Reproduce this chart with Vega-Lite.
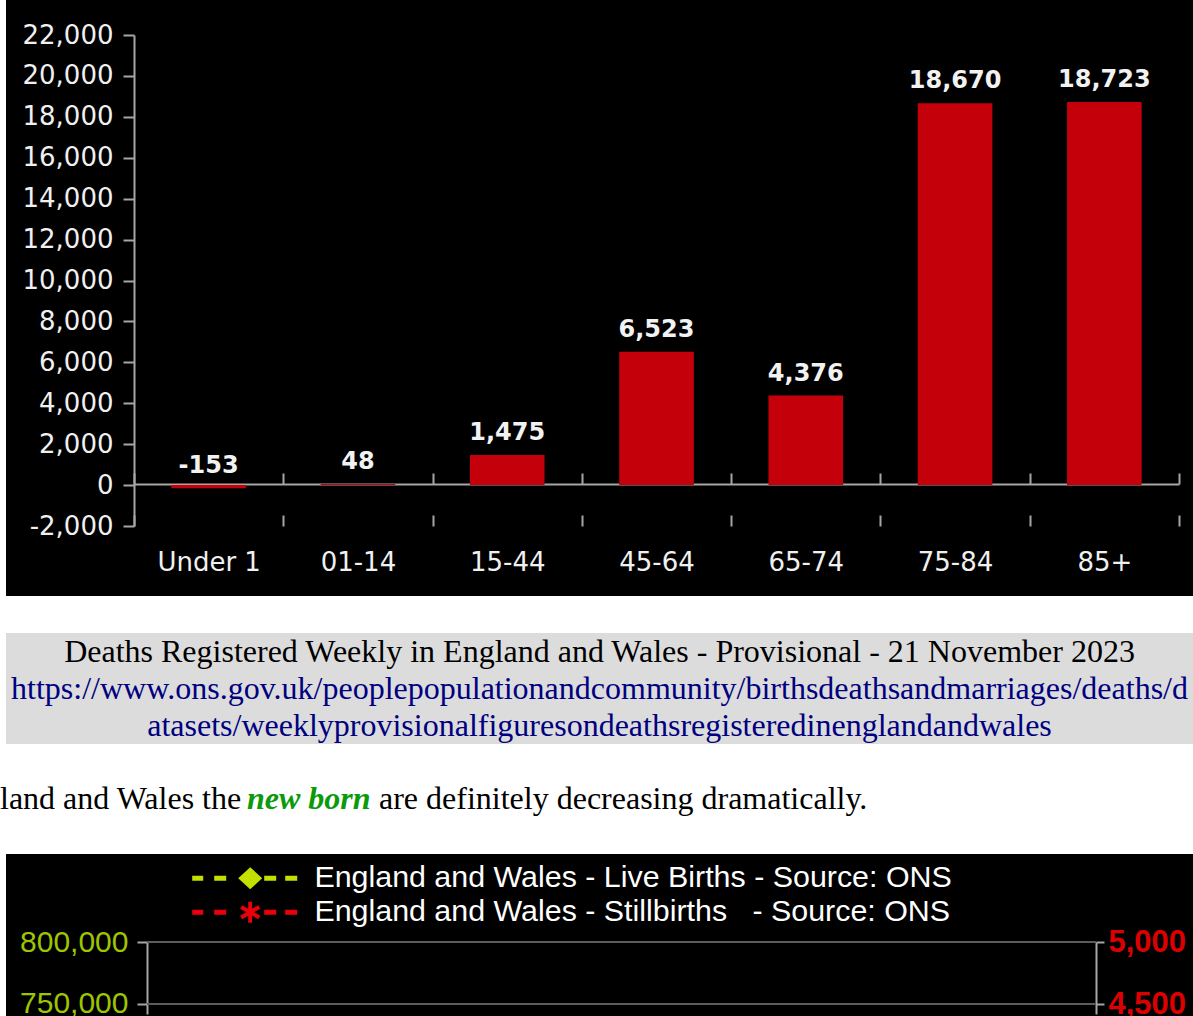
{
  "$schema": "https://vega.github.io/schema/vega-lite/v6.json",
  "background": "#ffffff",
  "padding": {"left": 0, "right": 0, "top": 0, "bottom": 0},
  "spacing": 0,
  "bounds": "flush",
  "config": {
    "view": {"stroke": null},
    "locale": {"number": {"decimal": ".", "thousands": ",", "grouping": [3], "currency": ["", ""], "minus": "-"}}
  },
  "resolve": {"scale": {"color": "independent", "shape": "independent"}, "legend": {"color": "independent", "shape": "independent"}},
  "vconcat": [
    {
      "width": 1187,
      "height": 596,
      "view": {"fill": "#000000", "stroke": null},
      "data": {"values": [
        {"age": "Under 1", "deaths": -153},
        {"age": "01-14", "deaths": 48},
        {"age": "15-44", "deaths": 1475},
        {"age": "45-64", "deaths": 6523},
        {"age": "65-74", "deaths": 4376},
        {"age": "75-84", "deaths": 18670},
        {"age": "85+", "deaths": 18723}
      ]},
      "resolve": {"axis": {"x": "independent"}},
      "layer": [
        {
          "mark": {"type": "bar", "color": "#c4000b", "width": {"band": 0.5}},
          "encoding": {
            "x": {"field": "age", "type": "nominal", "sort": null,
              "scale": {"range": [128, 1173], "paddingInner": 0, "paddingOuter": 0},
              "axis": {"orient": "bottom", "offset": -81, "tickBand": "extent", "domain": false, "grid": false,
                "tickSize": 11, "tickColor": "#a6a6a6", "tickWidth": 2,
                "labelColor": "#f0f0f0", "labelFont": "DejaVu Sans", "labelFontSize": 26, "labelPadding": 23, "labelAngle": 0, "title": null}},
            "y": {"field": "deaths", "type": "quantitative",
              "scale": {"domain": [-2000, 22000], "range": [526, 35], "nice": false, "zero": true},
              "axis": {"orient": "left", "offset": -128, "values": [-2000, 0, 2000, 4000, 6000, 8000, 10000, 12000, 14000, 16000, 18000, 20000, 22000],
                "labelExpr": "format(datum.value, ',')", "title": null, "grid": false,
                "domainColor": "#a6a6a6", "domainWidth": 2, "tickColor": "#a6a6a6", "tickWidth": 2, "tickSize": 11,
                "labelColor": "#f0f0f0", "labelFont": "DejaVu Sans", "labelFontSize": 26, "labelPadding": 10,
                "labelOverlap": false, "labelFlush": false, "labelBound": false}},
            "y2": {"datum": 0}
          }
        },
        {
          "mark": {"type": "text", "dy": -15, "baseline": "alphabetic", "align": "center", "font": "DejaVu Sans", "fontWeight": "bold", "fontSize": 24, "color": "#f2f2f2"},
          "encoding": {
            "x": {"field": "age", "type": "nominal", "sort": null,
              "scale": {"range": [128, 1173], "paddingInner": 0, "paddingOuter": 0},
              "axis": {"orient": "top", "offset": -484, "tickBand": "extent", "labels": false, "grid": false,
                "domainColor": "#a6a6a6", "domainWidth": 2, "tickColor": "#a6a6a6", "tickWidth": 2, "tickSize": 11, "title": null}},
            "y": {"field": "deaths", "type": "quantitative",
              "scale": {"domain": [-2000, 22000], "range": [526, 35], "nice": false, "zero": true},
              "axis": {"orient": "left", "offset": -128, "values": [-2000, 0, 2000, 4000, 6000, 8000, 10000, 12000, 14000, 16000, 18000, 20000, 22000],
                "labelExpr": "format(datum.value, ',')", "title": null, "grid": false,
                "domainColor": "#a6a6a6", "domainWidth": 2, "tickColor": "#a6a6a6", "tickWidth": 2, "tickSize": 11,
                "labelColor": "#f0f0f0", "labelFont": "DejaVu Sans", "labelFontSize": 26, "labelPadding": 10,
                "labelOverlap": false, "labelFlush": false, "labelBound": false}},
            "text": {"field": "deaths", "type": "quantitative", "format": ","}
          }
        }
      ]
    },
    {
      "width": 1187,
      "height": 37,
      "data": {"values": [{"blank": ""}]},
      "mark": {"type": "text"},
      "encoding": {"text": {"field": "blank"}}
    },
    {
      "width": 1187,
      "height": 111,
      "view": {"fill": "#dcdcdc", "stroke": null},
      "data": {"values": [
        {"line": 1, "kind": "heading", "text": "Deaths Registered Weekly in England and Wales - Provisional - 21 November 2023"},
        {"line": 2, "kind": "link", "text": "https://www.ons.gov.uk/peoplepopulationandcommunity/birthsdeathsandmarriages/deaths/d"},
        {"line": 3, "kind": "link", "text": "atasets/weeklyprovisionalfiguresondeathsregisteredinenglandandwales"}
      ]},
      "mark": {"type": "text", "font": "Liberation Serif", "fontSize": 32, "baseline": "middle", "align": "center"},
      "encoding": {
        "y": {"field": "line", "type": "ordinal", "axis": null},
        "text": {"field": "text"},
        "color": {"field": "kind", "type": "nominal", "scale": {"domain": ["heading", "link"], "range": ["#000000", "#000080"]}, "legend": null}
      }
    },
    {
      "width": 1187,
      "height": 110,
      "layer": [
        {
          "data": {"values": [{"words": "land and Wales the"}]},
          "mark": {"type": "text", "align": "left", "baseline": "middle", "font": "Liberation Serif", "fontSize": 32, "color": "#000000", "x": -6},
          "encoding": {"text": {"field": "words"}}
        },
        {
          "data": {"values": [{"words": "new born"}]},
          "mark": {"type": "text", "align": "left", "baseline": "middle", "font": "Liberation Serif", "fontSize": 32, "fontWeight": "bold", "fontStyle": "italic", "color": "#0a9a0a", "x": 241},
          "encoding": {"text": {"field": "words"}}
        },
        {
          "data": {"values": [{"words": "are definitely decreasing dramatically."}]},
          "mark": {"type": "text", "align": "left", "baseline": "middle", "font": "Liberation Serif", "fontSize": 32, "color": "#000000", "x": 373},
          "encoding": {"text": {"field": "words"}}
        }
      ]
    },
    {
      "width": 1187,
      "height": 162,
      "view": {"fill": "#000000", "stroke": null},
      "resolve": {"scale": {"y": "independent"}, "axis": {"y": "independent"}},
      "layer": [
        {
          "data": {"values": [{"births": 800000}, {"births": 750000}]},
          "mark": {"type": "rule", "color": "#5c5c5c", "strokeWidth": 2},
          "encoding": {
            "y": {"field": "births", "type": "quantitative",
              "scale": {"domain": [741935, 800000], "range": [160, 88], "nice": false, "zero": false},
              "axis": {"orient": "left", "offset": -141, "values": [800000, 750000], "labelExpr": "format(datum.value, ',')", "title": null, "grid": false,
                "domainColor": "#a6a6a6", "domainWidth": 2, "tickColor": "#a6a6a6", "tickWidth": 2, "tickSize": 10,
                "labelColor": "#9fc400", "labelFont": "Liberation Sans", "labelFontSize": 30, "labelPadding": 9,
                "labelOverlap": false, "labelFlush": false}},
            "x": {"datum": 0, "type": "quantitative", "scale": {"domain": [0, 1], "range": [141, 1090]}, "axis": null},
            "x2": {"datum": 1}
          }
        },
        {
          "data": {"values": [
            {"series": "England and Wales - Live Births - Source: ONS", "level": 20000},
            {"series": "England and Wales - Stillbirths\u00a0\u00a0\u00a0- Source: ONS", "level": 20000}
          ]},
          "mark": {"type": "point", "filled": true, "clip": true, "opacity": 1},
          "encoding": {
            "y": {"field": "level", "type": "quantitative",
              "scale": {"domain": [4419.4, 5000], "range": [160, 88], "nice": false, "zero": false},
              "axis": {"orient": "right", "offset": -97, "values": [5000, 4500], "labelExpr": "format(datum.value, ',')", "title": null, "grid": false,
                "domainColor": "#a6a6a6", "domainWidth": 2, "tickColor": "#a6a6a6", "tickWidth": 2, "tickSize": 8,
                "labelColor": "#dd0000", "labelFont": "Liberation Sans", "labelFontWeight": "bold", "labelFontSize": 31, "labelPadding": 4,
                "labelOverlap": false, "labelFlush": false}},
            "color": {"field": "series", "type": "nominal", "scale": {"range": ["#c4e000", "#e8000b"]},
              "legend": {"orient": "none", "legendX": 229, "legendY": 9, "title": null, "padding": 0,
                "labelColor": "#ffffff", "labelFont": "Liberation Sans", "labelFontSize": 30.4, "labelLimit": 2000,
                "labelOffset": 49, "rowPadding": 3, "symbolSize": 400, "symbolStrokeWidth": 0, "symbolOpacity": 1}},
            "shape": {"field": "series", "type": "nominal", "scale": {"range": [
              "M-5.8,-0.25H-4.7V0.25H-5.8Z M-3.6,-0.25H-2.4V0.25H-3.6Z M-1.2,0L0,-1.1L1.2,0L0,1.1Z M1.4,-0.25H2.6V0.25H1.4Z M3.5,-0.25H4.7V0.25H3.5Z",
              "M-5.8,-0.25H-4.7V0.25H-5.8Z M-3.6,-0.25H-2.4V0.25H-3.6Z M-0.2,-1.05H0.2V1.05H-0.2Z M-0.809,-0.698L1.009,0.352L0.809,0.698L-1.009,-0.352Z M1.009,-0.352L-0.809,0.698L-1.009,0.352L0.809,-0.698Z M1.4,-0.25H2.6V0.25H1.4Z M3.5,-0.25H4.7V0.25H3.5Z"
            ]}}
          }
        }
      ]
    }
  ]
}
